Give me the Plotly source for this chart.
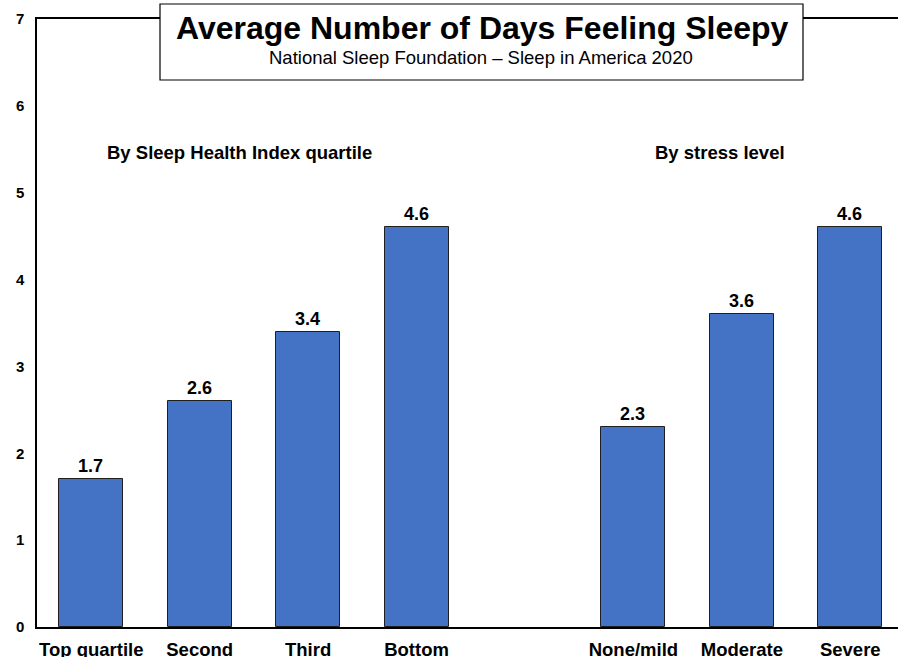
import plotly.graph_objects as go

# Data
quartile_labels = ["Top quartile", "Second", "Third", "Bottom"]
quartile_values = [1.7, 2.6, 3.4, 4.6]
stress_labels = ["None/mild", "Moderate", "Severe"]
stress_values = [2.3, 3.6, 4.6]
y_ticks = [0, 1, 2, 3, 4, 5, 6, 7]

title = "Average Number of Days Feeling Sleepy"
subtitle = "National Sleep Foundation \u2013 Sleep in America 2020"
group1 = "By Sleep Health Index quartile"
group2 = "By stress level"

# positions: group 1 in slots 0..3, one empty slot, group 2 in slots 5..7
x1 = list(range(len(quartile_labels)))
x2 = [len(quartile_labels) + 1 + i for i in range(len(stress_labels))]
xs = x1 + x2
labels = quartile_labels + stress_labels
values = quartile_values + stress_values

FONT = "Liberation Sans, Arial, sans-serif"
W, H = 898, 657
L, R, T, B = 37, 0, 19, 30
pw, ph = W - L - R, H - T - B

# helpers converting pixels to paper coordinates
def px_x(px):
    return (px - L) / pw

def px_y(py):
    return 1 - (py - T) / ph

fig = go.Figure()
fig.add_trace(go.Bar(
    x=xs, y=values,
    width=0.59,
    marker=dict(color="#4472C4", line=dict(color="#1f1f1f", width=1)),
    text=[f"{v:.1f}" for v in values],
    textposition="outside",
    textfont=dict(family=FONT, size=18, color="black", weight="bold"),
    cliponaxis=False,
    hoverinfo="skip",
))

fig.update_layout(
    width=W, height=H,
    margin=dict(l=L, r=R, t=T, b=B, autoexpand=False),
    plot_bgcolor="white", paper_bgcolor="white",
    showlegend=False,
    bargap=0,
    font=dict(family=FONT, color="black"),
    xaxis=dict(
        range=[-0.5, 7.44], automargin=False,
        tickmode="array", tickvals=xs, ticktext=labels,
        tickfont=dict(family=FONT, size=18.5, color="black", weight="bold"),
        showline=True, linecolor="black", linewidth=1.5, mirror=True,
        showgrid=False, zeroline=False, ticks="", ticklabelstandoff=5,
    ),
    yaxis=dict(
        range=[0, 7], automargin=False,
        tickmode="array", tickvals=y_ticks,
        tickfont=dict(family=FONT, size=15, color="black", weight="bold"),
        showline=True, linecolor="black", linewidth=1.5,
        showgrid=False, zeroline=False, ticks="", ticklabelstandoff=8,
    ),
)

fig.add_shape(type="rect", xref="paper", yref="paper",
              x0=px_x(160), x1=px_x(803), y0=px_y(80), y1=px_y(4),
              fillcolor="white", line=dict(color="black", width=1.2), layer="above")

fig.add_annotation(xref="paper", yref="paper", x=px_x(482), y=px_y(28),
                   text=title, showarrow=False, xanchor="center", yanchor="middle",
                   font=dict(family=FONT, size=32, color="black", weight="bold"))
fig.add_annotation(xref="paper", yref="paper", x=px_x(481), y=px_y(57),
                   text=subtitle, showarrow=False, xanchor="center", yanchor="middle",
                   font=dict(family=FONT, size=18.5, color="black"))
fig.add_annotation(xref="paper", yref="paper", x=px_x(239), y=px_y(152),
                   text=group1, showarrow=False, xanchor="center", yanchor="middle",
                   font=dict(family=FONT, size=18.5, color="black", weight="bold"))
fig.add_annotation(xref="paper", yref="paper", x=px_x(720), y=px_y(152),
                   text=group2, showarrow=False, xanchor="center", yanchor="middle",
                   font=dict(family=FONT, size=18.5, color="black", weight="bold"))

fig.write_html(
    "out.html",
    config={"displayModeBar": False},
    post_script="document.body.style.margin='0';document.body.style.overflow='hidden';",
)
